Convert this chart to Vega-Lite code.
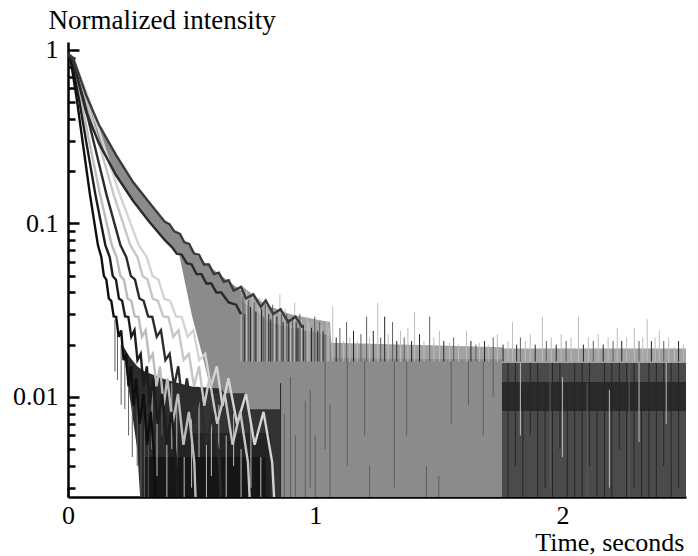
{
"$schema": "https://vega.github.io/schema/vega-lite/v6.json",
"autosize": {"type": "none"},
"padding": {"left": 68, "top": 42, "right": 12, "bottom": 59},
"width": 618,
"height": 455,
"background": "white",
"config": {
  "view": {"stroke": null},
  "axis": {"labelFont": "Liberation Serif, Times New Roman, serif", "titleFont": "Liberation Serif, Times New Roman, serif", "labelFontSize": 26, "titleFontSize": 27, "titleFontWeight": "normal", "labelColor": "black", "titleColor": "black", "domainColor": "black", "tickColor": "black", "grid": false}
},
"datasets": {
  "fills": [
    {"g": "R", "t": 0.70, "hi": 0.044, "lo": 0.001},
    {"g": "R", "t": 0.80, "hi": 0.034, "lo": 0.001},
    {"g": "R", "t": 0.90, "hi": 0.030, "lo": 0.001},
    {"g": "R", "t": 1.00, "hi": 0.028, "lo": 0.001},
    {"g": "R", "t": 1.06, "hi": 0.027, "lo": 0.001},
    {"g": "R", "t": 1.065, "hi": 0.0205, "lo": 0.001},
    {"g": "R", "t": 1.50, "hi": 0.0198, "lo": 0.001},
    {"g": "R", "t": 1.755, "hi": 0.0193, "lo": 0.001},
    {"g": "R", "t": 1.76, "hi": 0.019, "lo": 0.001},
    {"g": "R", "t": 2.50, "hi": 0.019, "lo": 0.001},
    {"g": "H", "t": 1.755, "hi": 0.0157, "lo": 0.001},
    {"g": "H", "t": 2.50, "hi": 0.0157, "lo": 0.001},
    {"g": "HD", "t": 1.755, "hi": 0.0122, "lo": 0.0083},
    {"g": "HD", "t": 2.50, "hi": 0.0122, "lo": 0.0083},
    {"g": "F", "t": 0.45, "hi": 0.066, "lo": 0.066},
    {"g": "F", "t": 0.50, "hi": 0.058, "lo": 0.030},
    {"g": "F", "t": 0.55, "hi": 0.050, "lo": 0.016},
    {"g": "F", "t": 0.60, "hi": 0.045, "lo": 0.008},
    {"g": "F", "t": 0.65, "hi": 0.040, "lo": 0.004},
    {"g": "F", "t": 0.70, "hi": 0.036, "lo": 0.001},
    {"g": "F", "t": 0.75, "hi": 0.032, "lo": 0.001},
    {"g": "F", "t": 0.80, "hi": 0.028, "lo": 0.001},
    {"g": "F", "t": 0.85, "hi": 0.026, "lo": 0.001},
    {"g": "F", "t": 0.90, "hi": 0.025, "lo": 0.001},
    {"g": "F", "t": 1.00, "hi": 0.0235, "lo": 0.001},
    {"g": "F", "t": 1.06, "hi": 0.0225, "lo": 0.001},
    {"g": "F", "t": 1.065, "hi": 0.0168, "lo": 0.001},
    {"g": "F", "t": 1.30, "hi": 0.0166, "lo": 0.001},
    {"g": "F", "t": 1.755, "hi": 0.0165, "lo": 0.001},
    {"g": "K", "t": 0.22, "hi": 0.020, "lo": 0.020},
    {"g": "K", "t": 0.25, "hi": 0.017, "lo": 0.010},
    {"g": "K", "t": 0.28, "hi": 0.015, "lo": 0.005},
    {"g": "K", "t": 0.31, "hi": 0.014, "lo": 0.001},
    {"g": "K", "t": 0.40, "hi": 0.0125, "lo": 0.001},
    {"g": "K", "t": 0.50, "hi": 0.0115, "lo": 0.001},
    {"g": "K", "t": 0.62, "hi": 0.0112, "lo": 0.001},
    {"g": "K", "t": 0.66, "hi": 0.009, "lo": 0.001},
    {"g": "K", "t": 0.80, "hi": 0.008, "lo": 0.001},
    {"g": "C", "t": 0.50, "hi": 0.0085, "lo": 0.001},
    {"g": "C", "t": 0.55, "hi": 0.0105, "lo": 0.001},
    {"g": "C", "t": 0.72, "hi": 0.0105, "lo": 0.001},
    {"g": "C", "t": 0.725, "hi": 0.0085, "lo": 0.001},
    {"g": "C", "t": 0.86, "hi": 0.0085, "lo": 0.001},
    {"g": "B", "t": 0.40, "hi": 0.0062, "lo": 0.001},
    {"g": "B", "t": 0.82, "hi": 0.0062, "lo": 0.001},
    {"g": "A", "t": 0.31, "hi": 0.0045, "lo": 0.001},
    {"g": "A", "t": 0.80, "hi": 0.0045, "lo": 0.001}
  ],
  "band": [
    {"t": 0, "hi": 0.95, "lo": 0.95},
    {"t": 0.02, "hi": 0.90, "lo": 0.86},
    {"t": 0.073, "hi": 0.55, "lo": 0.44},
    {"t": 0.125, "hi": 0.37, "lo": 0.29},
    {"t": 0.194, "hi": 0.248, "lo": 0.19},
    {"t": 0.263, "hi": 0.173, "lo": 0.135},
    {"t": 0.327, "hi": 0.133, "lo": 0.103},
    {"t": 0.392, "hi": 0.102, "lo": 0.080},
    {"t": 0.453, "hi": 0.085, "lo": 0.066},
    {"t": 0.51, "hi": 0.068, "lo": 0.053},
    {"t": 0.562, "hi": 0.058, "lo": 0.045},
    {"t": 0.62, "hi": 0.050, "lo": 0.038},
    {"t": 0.70, "hi": 0.041, "lo": 0.030}
  ],
  "rules": [
    {"t": 0.700, "lo": 0.016, "hi": 0.034, "c": "lt"},
    {"t": 0.708, "lo": 0.016, "hi": 0.038, "c": "md"},
    {"t": 0.715, "lo": 0.016, "hi": 0.030, "c": "dk"},
    {"t": 0.722, "lo": 0.016, "hi": 0.041, "c": "lt"},
    {"t": 0.730, "lo": 0.016, "hi": 0.036, "c": "md"},
    {"t": 0.738, "lo": 0.016, "hi": 0.033, "c": "dk"},
    {"t": 0.747, "lo": 0.016, "hi": 0.040, "c": "lt"},
    {"t": 0.753, "lo": 0.016, "hi": 0.035, "c": "md"},
    {"t": 0.760, "lo": 0.016, "hi": 0.031, "c": "dk"},
    {"t": 0.768, "lo": 0.016, "hi": 0.034, "c": "lt"},
    {"t": 0.776, "lo": 0.016, "hi": 0.037, "c": "lt"},
    {"t": 0.783, "lo": 0.016, "hi": 0.032, "c": "dk"},
    {"t": 0.790, "lo": 0.016, "hi": 0.029, "c": "md"},
    {"t": 0.798, "lo": 0.016, "hi": 0.035, "c": "md"},
    {"t": 0.805, "lo": 0.016, "hi": 0.033, "c": "lt"},
    {"t": 0.812, "lo": 0.016, "hi": 0.030, "c": "dk"},
    {"t": 0.820, "lo": 0.016, "hi": 0.028, "c": "dk"},
    {"t": 0.828, "lo": 0.016, "hi": 0.034, "c": "md"},
    {"t": 0.835, "lo": 0.016, "hi": 0.031, "c": "lt"},
    {"t": 0.845, "lo": 0.016, "hi": 0.029, "c": "dk"},
    {"t": 0.857, "lo": 0.016, "hi": 0.039, "c": "lt"},
    {"t": 0.863, "lo": 0.016, "hi": 0.030, "c": "md"},
    {"t": 0.870, "lo": 0.016, "hi": 0.027, "c": "dk"},
    {"t": 0.878, "lo": 0.016, "hi": 0.032, "c": "lt"},
    {"t": 0.885, "lo": 0.016, "hi": 0.030, "c": "md"},
    {"t": 0.893, "lo": 0.016, "hi": 0.028, "c": "dk"},
    {"t": 0.900, "lo": 0.016, "hi": 0.026, "c": "lt"},
    {"t": 0.908, "lo": 0.016, "hi": 0.029, "c": "md"},
    {"t": 0.917, "lo": 0.016, "hi": 0.035, "c": "lt"},
    {"t": 0.923, "lo": 0.016, "hi": 0.027, "c": "dk"},
    {"t": 0.930, "lo": 0.016, "hi": 0.025, "c": "dk"},
    {"t": 0.938, "lo": 0.016, "hi": 0.030, "c": "md"},
    {"t": 0.945, "lo": 0.016, "hi": 0.028, "c": "lt"},
    {"t": 0.952, "lo": 0.016, "hi": 0.026, "c": "dk"},
    {"t": 0.960, "lo": 0.016, "hi": 0.024, "c": "md"},
    {"t": 0.968, "lo": 0.016, "hi": 0.029, "c": "lt"},
    {"t": 0.975, "lo": 0.016, "hi": 0.027, "c": "lt"},
    {"t": 0.985, "lo": 0.016, "hi": 0.025, "c": "dk"},
    {"t": 0.998, "lo": 0.016, "hi": 0.029, "c": "md"},
    {"t": 1.010, "lo": 0.016, "hi": 0.024, "c": "dk"},
    {"t": 1.018, "lo": 0.016, "hi": 0.027, "c": "md"},
    {"t": 1.025, "lo": 0.016, "hi": 0.026, "c": "lt"},
    {"t": 1.032, "lo": 0.016, "hi": 0.024, "c": "dk"},
    {"t": 1.040, "lo": 0.016, "hi": 0.023, "c": "md"},
    {"t": 1.048, "lo": 0.016, "hi": 0.027, "c": "lt"},
    {"t": 1.055, "lo": 0.016, "hi": 0.025, "c": "lt"},
    {"t": 1.071, "lo": 0.016, "hi": 0.033, "c": "lt"},
    {"t": 1.085, "lo": 0.016, "hi": 0.022, "c": "dk"},
    {"t": 1.100, "lo": 0.016, "hi": 0.025, "c": "md"},
    {"t": 1.115, "lo": 0.016, "hi": 0.021, "c": "lt"},
    {"t": 1.127, "lo": 0.016, "hi": 0.027, "c": "md"},
    {"t": 1.140, "lo": 0.016, "hi": 0.022, "c": "lt"},
    {"t": 1.155, "lo": 0.016, "hi": 0.024, "c": "dk"},
    {"t": 1.170, "lo": 0.016, "hi": 0.021, "c": "lt"},
    {"t": 1.185, "lo": 0.016, "hi": 0.023, "c": "md"},
    {"t": 1.208, "lo": 0.016, "hi": 0.029, "c": "md"},
    {"t": 1.220, "lo": 0.016, "hi": 0.022, "c": "lt"},
    {"t": 1.235, "lo": 0.016, "hi": 0.024, "c": "dk"},
    {"t": 1.253, "lo": 0.016, "hi": 0.035, "c": "lt"},
    {"t": 1.265, "lo": 0.016, "hi": 0.022, "c": "md"},
    {"t": 1.281, "lo": 0.016, "hi": 0.029, "c": "dk"},
    {"t": 1.295, "lo": 0.016, "hi": 0.023, "c": "lt"},
    {"t": 1.313, "lo": 0.016, "hi": 0.027, "c": "md"},
    {"t": 1.330, "lo": 0.016, "hi": 0.021, "c": "dk"},
    {"t": 1.345, "lo": 0.016, "hi": 0.024, "c": "lt"},
    {"t": 1.360, "lo": 0.016, "hi": 0.022, "c": "md"},
    {"t": 1.375, "lo": 0.016, "hi": 0.025, "c": "lt"},
    {"t": 1.390, "lo": 0.016, "hi": 0.021, "c": "dk"},
    {"t": 1.402, "lo": 0.016, "hi": 0.031, "c": "lt"},
    {"t": 1.422, "lo": 0.016, "hi": 0.023, "c": "dk"},
    {"t": 1.440, "lo": 0.016, "hi": 0.021, "c": "lt"},
    {"t": 1.463, "lo": 0.016, "hi": 0.029, "c": "md"},
    {"t": 1.480, "lo": 0.016, "hi": 0.022, "c": "lt"},
    {"t": 1.503, "lo": 0.016, "hi": 0.024, "c": "lt"},
    {"t": 1.520, "lo": 0.016, "hi": 0.021, "c": "dk"},
    {"t": 1.543, "lo": 0.016, "hi": 0.0205, "c": "lt"},
    {"t": 1.560, "lo": 0.016, "hi": 0.022, "c": "md"},
    {"t": 1.580, "lo": 0.016, "hi": 0.020, "c": "lt"},
    {"t": 1.612, "lo": 0.016, "hi": 0.024, "c": "lt"},
    {"t": 1.630, "lo": 0.016, "hi": 0.021, "c": "dk"},
    {"t": 1.650, "lo": 0.016, "hi": 0.020, "c": "md"},
    {"t": 1.665, "lo": 0.016, "hi": 0.0205, "c": "lt"},
    {"t": 1.685, "lo": 0.016, "hi": 0.021, "c": "dk"},
    {"t": 1.700, "lo": 0.016, "hi": 0.020, "c": "lt"},
    {"t": 1.720, "lo": 0.016, "hi": 0.022, "c": "md"},
    {"t": 1.737, "lo": 0.016, "hi": 0.023, "c": "lt"},
    {"t": 1.760, "lo": 0.016, "hi": 0.020, "c": "dk"},
    {"t": 1.780, "lo": 0.016, "hi": 0.021, "c": "lt"},
    {"t": 1.798, "lo": 0.016, "hi": 0.027, "c": "lt"},
    {"t": 1.815, "lo": 0.016, "hi": 0.020, "c": "dk"},
    {"t": 1.830, "lo": 0.016, "hi": 0.022, "c": "md"},
    {"t": 1.850, "lo": 0.016, "hi": 0.021, "c": "lt"},
    {"t": 1.870, "lo": 0.016, "hi": 0.023, "c": "lt"},
    {"t": 1.890, "lo": 0.016, "hi": 0.020, "c": "dk"},
    {"t": 1.919, "lo": 0.016, "hi": 0.029, "c": "lt"},
    {"t": 1.935, "lo": 0.016, "hi": 0.021, "c": "md"},
    {"t": 1.955, "lo": 0.016, "hi": 0.022, "c": "lt"},
    {"t": 1.975, "lo": 0.016, "hi": 0.020, "c": "dk"},
    {"t": 1.995, "lo": 0.016, "hi": 0.023, "c": "lt"},
    {"t": 2.015, "lo": 0.016, "hi": 0.021, "c": "md"},
    {"t": 2.035, "lo": 0.016, "hi": 0.022, "c": "lt"},
    {"t": 2.065, "lo": 0.016, "hi": 0.029, "c": "lt"},
    {"t": 2.085, "lo": 0.016, "hi": 0.020, "c": "dk"},
    {"t": 2.105, "lo": 0.016, "hi": 0.022, "c": "lt"},
    {"t": 2.125, "lo": 0.016, "hi": 0.021, "c": "md"},
    {"t": 2.145, "lo": 0.016, "hi": 0.023, "c": "lt"},
    {"t": 2.165, "lo": 0.016, "hi": 0.020, "c": "dk"},
    {"t": 2.185, "lo": 0.016, "hi": 0.022, "c": "lt"},
    {"t": 2.205, "lo": 0.016, "hi": 0.021, "c": "md"},
    {"t": 2.222, "lo": 0.016, "hi": 0.025, "c": "lt"},
    {"t": 2.240, "lo": 0.016, "hi": 0.021, "c": "dk"},
    {"t": 2.260, "lo": 0.016, "hi": 0.022, "c": "lt"},
    {"t": 2.291, "lo": 0.016, "hi": 0.025, "c": "lt"},
    {"t": 2.310, "lo": 0.016, "hi": 0.021, "c": "md"},
    {"t": 2.325, "lo": 0.016, "hi": 0.022, "c": "lt"},
    {"t": 2.343, "lo": 0.016, "hi": 0.028, "c": "lt"},
    {"t": 2.360, "lo": 0.016, "hi": 0.021, "c": "dk"},
    {"t": 2.375, "lo": 0.016, "hi": 0.022, "c": "lt"},
    {"t": 2.392, "lo": 0.016, "hi": 0.024, "c": "lt"},
    {"t": 2.410, "lo": 0.016, "hi": 0.021, "c": "md"},
    {"t": 2.430, "lo": 0.016, "hi": 0.022, "c": "lt"},
    {"t": 2.453, "lo": 0.016, "hi": 0.0194, "c": "lt"},
    {"t": 2.470, "lo": 0.016, "hi": 0.021, "c": "dk"},
    {"t": 2.490, "lo": 0.016, "hi": 0.020, "c": "lt"},
    {"t": 0.86, "lo": 0.001, "hi": 0.012, "c": "dk"},
    {"t": 0.875, "lo": 0.001, "hi": 0.008, "c": "md"},
    {"t": 0.90, "lo": 0.002, "hi": 0.013, "c": "md"},
    {"t": 0.92, "lo": 0.001, "hi": 0.006, "c": "md"},
    {"t": 0.96, "lo": 0.001, "hi": 0.0095, "c": "md"},
    {"t": 0.98, "lo": 0.003, "hi": 0.011, "c": "md"},
    {"t": 1.00, "lo": 0.001, "hi": 0.006, "c": "md"},
    {"t": 1.04, "lo": 0.005, "hi": 0.016, "c": "md"},
    {"t": 1.06, "lo": 0.001, "hi": 0.009, "c": "md"},
    {"t": 1.13, "lo": 0.004, "hi": 0.016, "c": "md"},
    {"t": 1.20, "lo": 0.006, "hi": 0.016, "c": "md"},
    {"t": 1.22, "lo": 0.001, "hi": 0.004, "c": "md"},
    {"t": 1.32, "lo": 0.003, "hi": 0.016, "c": "md"},
    {"t": 1.37, "lo": 0.006, "hi": 0.016, "c": "md"},
    {"t": 1.45, "lo": 0.001, "hi": 0.004, "c": "md"},
    {"t": 1.50, "lo": 0.001, "hi": 0.0035, "c": "md"},
    {"t": 1.55, "lo": 0.007, "hi": 0.016, "c": "md"},
    {"t": 1.62, "lo": 0.009, "hi": 0.016, "c": "md"},
    {"t": 1.68, "lo": 0.006, "hi": 0.016, "c": "md"},
    {"t": 1.72, "lo": 0.010, "hi": 0.016, "c": "md"},
    {"t": 1.78, "lo": 0.001, "hi": 0.0157, "c": "dk"},
    {"t": 1.81, "lo": 0.004, "hi": 0.0157, "c": "dk"},
    {"t": 1.84, "lo": 0.001, "hi": 0.011, "c": "dk"},
    {"t": 1.87, "lo": 0.006, "hi": 0.0157, "c": "dk"},
    {"t": 1.90, "lo": 0.001, "hi": 0.0157, "c": "dk"},
    {"t": 1.93, "lo": 0.003, "hi": 0.012, "c": "dk"},
    {"t": 1.96, "lo": 0.001, "hi": 0.0157, "c": "dk"},
    {"t": 1.99, "lo": 0.005, "hi": 0.0157, "c": "dk"},
    {"t": 2.02, "lo": 0.001, "hi": 0.010, "c": "dk"},
    {"t": 2.05, "lo": 0.002, "hi": 0.0157, "c": "dk"},
    {"t": 2.08, "lo": 0.001, "hi": 0.0157, "c": "dk"},
    {"t": 2.11, "lo": 0.004, "hi": 0.0157, "c": "dk"},
    {"t": 2.14, "lo": 0.001, "hi": 0.009, "c": "dk"},
    {"t": 2.17, "lo": 0.002, "hi": 0.0157, "c": "dk"},
    {"t": 2.20, "lo": 0.001, "hi": 0.0157, "c": "dk"},
    {"t": 2.23, "lo": 0.005, "hi": 0.0157, "c": "dk"},
    {"t": 2.26, "lo": 0.001, "hi": 0.0157, "c": "dk"},
    {"t": 2.29, "lo": 0.003, "hi": 0.0157, "c": "dk"},
    {"t": 2.32, "lo": 0.001, "hi": 0.011, "c": "dk"},
    {"t": 2.35, "lo": 0.002, "hi": 0.0157, "c": "dk"},
    {"t": 2.38, "lo": 0.001, "hi": 0.0157, "c": "dk"},
    {"t": 2.41, "lo": 0.004, "hi": 0.0157, "c": "dk"},
    {"t": 2.44, "lo": 0.001, "hi": 0.0157, "c": "dk"},
    {"t": 2.47, "lo": 0.003, "hi": 0.0157, "c": "dk"},
    {"t": 1.83, "lo": 0.006, "hi": 0.0157, "c": "lt"},
    {"t": 2.00, "lo": 0.0045, "hi": 0.013, "c": "lt"},
    {"t": 2.19, "lo": 0.003, "hi": 0.011, "c": "lt"},
    {"t": 2.31, "lo": 0.0055, "hi": 0.0157, "c": "lt"},
    {"t": 2.42, "lo": 0.007, "hi": 0.0157, "c": "lt"},
    {"t": 1.95, "lo": 0.003, "hi": 0.0157, "c": "md"},
    {"t": 2.10, "lo": 0.001, "hi": 0.012, "c": "md"},
    {"t": 2.27, "lo": 0.002, "hi": 0.0157, "c": "md"},
    {"t": 0.34, "lo": 0.005, "hi": 0.012, "c": "lt"},
    {"t": 0.36, "lo": 0.0035, "hi": 0.0075, "c": "lt"},
    {"t": 0.38, "lo": 0.006, "hi": 0.011, "c": "md"},
    {"t": 0.40, "lo": 0.001, "hi": 0.006, "c": "lt"},
    {"t": 0.42, "lo": 0.005, "hi": 0.012, "c": "lt"},
    {"t": 0.44, "lo": 0.004, "hi": 0.009, "c": "lt"},
    {"t": 0.47, "lo": 0.001, "hi": 0.0045, "c": "lt"},
    {"t": 0.50, "lo": 0.003, "hi": 0.0075, "c": "lt"},
    {"t": 0.53, "lo": 0.0045, "hi": 0.0095, "c": "lt"},
    {"t": 0.56, "lo": 0.001, "hi": 0.0055, "c": "lt"},
    {"t": 0.58, "lo": 0.0035, "hi": 0.007, "c": "lt"},
    {"t": 0.61, "lo": 0.005, "hi": 0.009, "c": "lt"},
    {"t": 0.64, "lo": 0.002, "hi": 0.006, "c": "lt"},
    {"t": 0.67, "lo": 0.004, "hi": 0.008, "c": "lt"},
    {"t": 0.70, "lo": 0.001, "hi": 0.005, "c": "lt"},
    {"t": 0.74, "lo": 0.003, "hi": 0.007, "c": "lt"},
    {"t": 0.78, "lo": 0.001, "hi": 0.0045, "c": "lt"},
    {"t": 0.19, "lo": 0.014, "hi": 0.028, "c": "md"},
    {"t": 0.20, "lo": 0.0125, "hi": 0.025, "c": "md"},
    {"t": 0.215, "lo": 0.009, "hi": 0.02, "c": "md"},
    {"t": 0.23, "lo": 0.0085, "hi": 0.018, "c": "md"},
    {"t": 0.245, "lo": 0.006, "hi": 0.014, "c": "md"},
    {"t": 0.26, "lo": 0.0045, "hi": 0.012, "c": "md"},
    {"t": 0.28, "lo": 0.004, "hi": 0.011, "c": "md"},
    {"t": 0.295, "lo": 0.002, "hi": 0.009, "c": "md"},
    {"t": 0.31, "lo": 0.001, "hi": 0.008, "c": "md"},
    {"t": 0.325, "lo": 0.001, "hi": 0.006, "c": "md"}
  ],
  "curves": [
    {"s": "D", "t": 0, "v": 0.93}, {"s": "D", "t": 0.028, "v": 0.85}, {"s": "D", "t": 0.085, "v": 0.515}, {"s": "D", "t": 0.144, "v": 0.283}, {"s": "D", "t": 0.21, "v": 0.146}, {"s": "D", "t": 0.286, "v": 0.075}, {"s": "D", "t": 0.319, "v": 0.0638}, {"s": "D", "t": 0.342, "v": 0.0498}, {"s": "D", "t": 0.366, "v": 0.0474}, {"s": "D", "t": 0.389, "v": 0.0369}, {"s": "D", "t": 0.413, "v": 0.0358}, {"s": "D", "t": 0.437, "v": 0.0291}, {"s": "D", "t": 0.46, "v": 0.0289}, {"s": "D", "t": 0.484, "v": 0.0222}, {"s": "D", "t": 0.507, "v": 0.0242}, {"s": "D", "t": 0.531, "v": 0.0163}, {"s": "D", "t": 0.555, "v": 0.0177}, {"s": "D", "t": 0.578, "v": 0.0115}, {"s": "D", "t": 0.602, "v": 0.0150}, {"s": "D", "t": 0.625, "v": 0.0089}, {"s": "D", "t": 0.649, "v": 0.0128}, {"s": "D", "t": 0.684, "v": 0.0070}, {"s": "D", "t": 0.72, "v": 0.0104}, {"s": "D", "t": 0.755, "v": 0.0053}, {"s": "D", "t": 0.791, "v": 0.0082}, {"s": "D", "t": 0.826, "v": 0.0042}, {"s": "D", "t": 0.85, "v": 0.001},
    {"s": "G2", "t": 0, "v": 0.93}, {"s": "G2", "t": 0.025, "v": 0.85}, {"s": "G2", "t": 0.075, "v": 0.515}, {"s": "G2", "t": 0.127, "v": 0.283}, {"s": "G2", "t": 0.185, "v": 0.146}, {"s": "G2", "t": 0.252, "v": 0.075}, {"s": "G2", "t": 0.281, "v": 0.0638}, {"s": "G2", "t": 0.302, "v": 0.0498}, {"s": "G2", "t": 0.322, "v": 0.0474}, {"s": "G2", "t": 0.343, "v": 0.0369}, {"s": "G2", "t": 0.364, "v": 0.0358}, {"s": "G2", "t": 0.385, "v": 0.0291}, {"s": "G2", "t": 0.406, "v": 0.0289}, {"s": "G2", "t": 0.426, "v": 0.0222}, {"s": "G2", "t": 0.447, "v": 0.0242}, {"s": "G2", "t": 0.468, "v": 0.0163}, {"s": "G2", "t": 0.489, "v": 0.0177}, {"s": "G2", "t": 0.51, "v": 0.0115}, {"s": "G2", "t": 0.53, "v": 0.0150}, {"s": "G2", "t": 0.551, "v": 0.0089}, {"s": "G2", "t": 0.572, "v": 0.0128}, {"s": "G2", "t": 0.603, "v": 0.0070}, {"s": "G2", "t": 0.634, "v": 0.0104}, {"s": "G2", "t": 0.666, "v": 0.0053}, {"s": "G2", "t": 0.697, "v": 0.0082}, {"s": "G2", "t": 0.728, "v": 0.0042}, {"s": "G2", "t": 0.749, "v": 0.001},
    {"s": "C", "t": 0, "v": 0.93}, {"s": "C", "t": 0.021, "v": 0.85}, {"s": "C", "t": 0.063, "v": 0.515}, {"s": "C", "t": 0.107, "v": 0.283}, {"s": "C", "t": 0.156, "v": 0.146}, {"s": "C", "t": 0.212, "v": 0.075}, {"s": "C", "t": 0.236, "v": 0.0638}, {"s": "C", "t": 0.254, "v": 0.0498}, {"s": "C", "t": 0.271, "v": 0.0474}, {"s": "C", "t": 0.289, "v": 0.0369}, {"s": "C", "t": 0.306, "v": 0.0358}, {"s": "C", "t": 0.324, "v": 0.0291}, {"s": "C", "t": 0.341, "v": 0.0289}, {"s": "C", "t": 0.359, "v": 0.0222}, {"s": "C", "t": 0.376, "v": 0.0242}, {"s": "C", "t": 0.394, "v": 0.0163}, {"s": "C", "t": 0.411, "v": 0.0177}, {"s": "C", "t": 0.429, "v": 0.0115}, {"s": "C", "t": 0.446, "v": 0.0150}, {"s": "C", "t": 0.464, "v": 0.0089}, {"s": "C", "t": 0.481, "v": 0.0128}, {"s": "C", "t": 0.508, "v": 0.0070}, {"s": "C", "t": 0.534, "v": 0.0104}, {"s": "C", "t": 0.56, "v": 0.0053}, {"s": "C", "t": 0.586, "v": 0.0082}, {"s": "C", "t": 0.613, "v": 0.0042}, {"s": "C", "t": 0.63, "v": 0.001},
    {"s": "G1", "t": 0, "v": 0.93}, {"s": "G1", "t": 0.0175, "v": 0.85}, {"s": "G1", "t": 0.0526, "v": 0.515}, {"s": "G1", "t": 0.089, "v": 0.283}, {"s": "G1", "t": 0.13, "v": 0.146}, {"s": "G1", "t": 0.177, "v": 0.075}, {"s": "G1", "t": 0.197, "v": 0.0638}, {"s": "G1", "t": 0.212, "v": 0.0498}, {"s": "G1", "t": 0.226, "v": 0.0474}, {"s": "G1", "t": 0.241, "v": 0.0369}, {"s": "G1", "t": 0.256, "v": 0.0358}, {"s": "G1", "t": 0.27, "v": 0.0291}, {"s": "G1", "t": 0.285, "v": 0.0289}, {"s": "G1", "t": 0.299, "v": 0.0222}, {"s": "G1", "t": 0.314, "v": 0.0242}, {"s": "G1", "t": 0.329, "v": 0.0163}, {"s": "G1", "t": 0.343, "v": 0.0177}, {"s": "G1", "t": 0.358, "v": 0.0115}, {"s": "G1", "t": 0.372, "v": 0.0150}, {"s": "G1", "t": 0.387, "v": 0.0089}, {"s": "G1", "t": 0.402, "v": 0.0128}, {"s": "G1", "t": 0.423, "v": 0.0070}, {"s": "G1", "t": 0.445, "v": 0.0104}, {"s": "G1", "t": 0.467, "v": 0.0053}, {"s": "G1", "t": 0.489, "v": 0.0082}, {"s": "G1", "t": 0.511, "v": 0.0042}, {"s": "G1", "t": 0.526, "v": 0.001},
    {"s": "B", "t": 0, "v": 0.93}, {"s": "B", "t": 0.015, "v": 0.85}, {"s": "B", "t": 0.045, "v": 0.515}, {"s": "B", "t": 0.076, "v": 0.283}, {"s": "B", "t": 0.111, "v": 0.146}, {"s": "B", "t": 0.151, "v": 0.075}, {"s": "B", "t": 0.169, "v": 0.0638}, {"s": "B", "t": 0.181, "v": 0.0498}, {"s": "B", "t": 0.194, "v": 0.0474}, {"s": "B", "t": 0.206, "v": 0.0369}, {"s": "B", "t": 0.219, "v": 0.0358}, {"s": "B", "t": 0.231, "v": 0.0291}, {"s": "B", "t": 0.244, "v": 0.0289}, {"s": "B", "t": 0.256, "v": 0.0222}, {"s": "B", "t": 0.269, "v": 0.0242}, {"s": "B", "t": 0.281, "v": 0.0163}, {"s": "B", "t": 0.294, "v": 0.0177}, {"s": "B", "t": 0.306, "v": 0.0115}, {"s": "B", "t": 0.319, "v": 0.0150}, {"s": "B", "t": 0.331, "v": 0.0089}, {"s": "B", "t": 0.344, "v": 0.0128}, {"s": "B", "t": 0.363, "v": 0.0070}, {"s": "B", "t": 0.381, "v": 0.0104}, {"s": "B", "t": 0.4, "v": 0.0053}, {"s": "B", "t": 0.419, "v": 0.0082}, {"s": "B", "t": 0.438, "v": 0.0042}, {"s": "B", "t": 0.45, "v": 0.001},
    {"s": "A", "t": 0, "v": 0.93}, {"s": "A", "t": 0.012, "v": 0.85}, {"s": "A", "t": 0.036, "v": 0.515}, {"s": "A", "t": 0.061, "v": 0.283}, {"s": "A", "t": 0.089, "v": 0.146}, {"s": "A", "t": 0.121, "v": 0.075}, {"s": "A", "t": 0.135, "v": 0.0638}, {"s": "A", "t": 0.145, "v": 0.0498}, {"s": "A", "t": 0.155, "v": 0.0474}, {"s": "A", "t": 0.165, "v": 0.0369}, {"s": "A", "t": 0.175, "v": 0.0358}, {"s": "A", "t": 0.185, "v": 0.0291}, {"s": "A", "t": 0.195, "v": 0.0289}, {"s": "A", "t": 0.205, "v": 0.0222}, {"s": "A", "t": 0.215, "v": 0.0242}, {"s": "A", "t": 0.225, "v": 0.0163}, {"s": "A", "t": 0.235, "v": 0.0177}, {"s": "A", "t": 0.245, "v": 0.0115}, {"s": "A", "t": 0.255, "v": 0.0150}, {"s": "A", "t": 0.265, "v": 0.0089}, {"s": "A", "t": 0.275, "v": 0.0128}, {"s": "A", "t": 0.29, "v": 0.0070}, {"s": "A", "t": 0.305, "v": 0.0104}, {"s": "A", "t": 0.32, "v": 0.0053}, {"s": "A", "t": 0.335, "v": 0.0082}, {"s": "A", "t": 0.35, "v": 0.0042}, {"s": "A", "t": 0.36, "v": 0.001},
    {"s": "F2", "t": 0, "v": 0.95}, {"s": "F2", "t": 0.02, "v": 0.86}, {"s": "F2", "t": 0.073, "v": 0.44}, {"s": "F2", "t": 0.125, "v": 0.29}, {"s": "F2", "t": 0.194, "v": 0.19}, {"s": "F2", "t": 0.263, "v": 0.135}, {"s": "F2", "t": 0.327, "v": 0.103}, {"s": "F2", "t": 0.392, "v": 0.080}, {"s": "F2", "t": 0.42, "v": 0.073}, {"s": "F2", "t": 0.44, "v": 0.067}, {"s": "F2", "t": 0.46, "v": 0.066}, {"s": "F2", "t": 0.48, "v": 0.059}, {"s": "F2", "t": 0.50, "v": 0.058}, {"s": "F2", "t": 0.52, "v": 0.051}, {"s": "F2", "t": 0.54, "v": 0.051}, {"s": "F2", "t": 0.56, "v": 0.045}, {"s": "F2", "t": 0.58, "v": 0.045}, {"s": "F2", "t": 0.60, "v": 0.040}, {"s": "F2", "t": 0.62, "v": 0.040}, {"s": "F2", "t": 0.65, "v": 0.035}, {"s": "F2", "t": 0.68, "v": 0.034}, {"s": "F2", "t": 0.70, "v": 0.030},
    {"s": "F1", "t": 0, "v": 0.95}, {"s": "F1", "t": 0.02, "v": 0.90}, {"s": "F1", "t": 0.073, "v": 0.55}, {"s": "F1", "t": 0.125, "v": 0.37}, {"s": "F1", "t": 0.194, "v": 0.248}, {"s": "F1", "t": 0.263, "v": 0.173}, {"s": "F1", "t": 0.327, "v": 0.133}, {"s": "F1", "t": 0.392, "v": 0.102}, {"s": "F1", "t": 0.41, "v": 0.099}, {"s": "F1", "t": 0.43, "v": 0.090}, {"s": "F1", "t": 0.453, "v": 0.087}, {"s": "F1", "t": 0.47, "v": 0.078}, {"s": "F1", "t": 0.49, "v": 0.076}, {"s": "F1", "t": 0.51, "v": 0.067}, {"s": "F1", "t": 0.53, "v": 0.066}, {"s": "F1", "t": 0.55, "v": 0.058}, {"s": "F1", "t": 0.57, "v": 0.058}, {"s": "F1", "t": 0.59, "v": 0.051}, {"s": "F1", "t": 0.61, "v": 0.052}, {"s": "F1", "t": 0.63, "v": 0.046}, {"s": "F1", "t": 0.65, "v": 0.047}, {"s": "F1", "t": 0.67, "v": 0.041}, {"s": "F1", "t": 0.70, "v": 0.043}, {"s": "F1", "t": 0.72, "v": 0.037}, {"s": "F1", "t": 0.75, "v": 0.039}, {"s": "F1", "t": 0.78, "v": 0.033}, {"s": "F1", "t": 0.80, "v": 0.036}, {"s": "F1", "t": 0.83, "v": 0.030}, {"s": "F1", "t": 0.86, "v": 0.032}, {"s": "F1", "t": 0.89, "v": 0.027}, {"s": "F1", "t": 0.92, "v": 0.029}, {"s": "F1", "t": 0.95, "v": 0.025}
  ]
},
"encoding": {
  "x": {"field": "t", "type": "quantitative", "scale": {"domain": [0, 2.5], "nice": false, "zero": false},
        "axis": {"values": [0, 1, 2], "tickSize": -10, "tickWidth": 2, "domainWidth": 2.5, "labelPadding": 15, "labelFlush": false, "labelAngle": 0,
                 "title": "Time, seconds", "titleFontSize": 26, "titleX": 616, "titleY": 53, "titleAlign": "right", "titleBaseline": "alphabetic"}}
},
"layer": [
  {"data": {"name": "fills"}, "transform": [{"filter": "datum.g == 'R'"}], "mark": {"type": "area", "clip": true, "color": "#a2a2a2"},
   "encoding": {
     "y": {"field": "hi", "type": "quantitative", "stack": null, "scale": {"type": "log", "domain": [0.00265, 1.11], "nice": false},
           "axis": {"values": [0.003, 0.004, 0.005, 0.006, 0.007, 0.008, 0.009, 0.01, 0.02, 0.03, 0.04, 0.05, 0.06, 0.07, 0.08, 0.09, 0.1, 0.2, 0.3, 0.4, 0.5, 0.6, 0.7, 0.8, 0.9, 1],
                    "labelExpr": "datum.value == 1 ? '1' : datum.value == 0.1 ? '0.1' : datum.value == 0.01 ? '0.01' : ''",
                    "tickSize": {"condition": {"test": "datum.value == 1 || datum.value == 0.1 || datum.value == 0.01", "value": -11}, "value": -7},
                    "tickWidth": 2.5, "domainWidth": 2.5, "labelPadding": 21, "labelBaseline": "middle",
                    "title": "Normalized intensity", "titleAngle": 0, "titleAlign": "left", "titleBaseline": "alphabetic", "titleX": -20, "titleY": -14}},
     "y2": {"field": "lo"}}},
  {"data": {"name": "fills"}, "transform": [{"filter": "datum.g == 'H'"}], "mark": {"type": "area", "clip": true, "color": "#4b4b4b"},
   "encoding": {"y": {"field": "hi", "type": "quantitative", "stack": null}, "y2": {"field": "lo"}}},
  {"data": {"name": "fills"}, "transform": [{"filter": "datum.g == 'HD'"}], "mark": {"type": "area", "clip": true, "color": "#2a2a2a"},
   "encoding": {"y": {"field": "hi", "type": "quantitative", "stack": null}, "y2": {"field": "lo"}}},
  {"data": {"name": "fills"}, "transform": [{"filter": "datum.g == 'F'"}], "mark": {"type": "area", "clip": true, "color": "#8b8b8b"},
   "encoding": {"y": {"field": "hi", "type": "quantitative", "stack": null}, "y2": {"field": "lo"}}},
  {"data": {"name": "fills"}, "transform": [{"filter": "datum.g == 'K'"}], "mark": {"type": "area", "clip": true, "color": "#2b2b2b"},
   "encoding": {"y": {"field": "hi", "type": "quantitative", "stack": null}, "y2": {"field": "lo"}}},
  {"data": {"name": "fills"}, "transform": [{"filter": "datum.g == 'C'"}], "mark": {"type": "area", "clip": true, "color": "#333333"},
   "encoding": {"y": {"field": "hi", "type": "quantitative", "stack": null}, "y2": {"field": "lo"}}},
  {"data": {"name": "fills"}, "transform": [{"filter": "datum.g == 'B'"}], "mark": {"type": "area", "clip": true, "color": "#242424"},
   "encoding": {"y": {"field": "hi", "type": "quantitative", "stack": null}, "y2": {"field": "lo"}}},
  {"data": {"name": "fills"}, "transform": [{"filter": "datum.g == 'A'"}], "mark": {"type": "area", "clip": true, "color": "#161616"},
   "encoding": {"y": {"field": "hi", "type": "quantitative", "stack": null}, "y2": {"field": "lo"}}},
  {"data": {"name": "rules"}, "mark": {"type": "rule", "clip": true, "strokeWidth": 1},
   "encoding": {"y": {"field": "lo", "type": "quantitative"}, "y2": {"field": "hi"},
                "color": {"field": "c", "type": "nominal", "legend": null, "scale": {"domain": ["lt", "md", "dk"], "range": ["#bdbdbd", "#5e5e5e", "#262626"]}}}},
  {"data": {"name": "band"}, "mark": {"type": "area", "clip": true, "color": "#8b8b8b"},
   "encoding": {"y": {"field": "hi", "type": "quantitative", "stack": null}, "y2": {"field": "lo"}}},
  {"data": {"name": "curves"}, "mark": {"type": "line", "clip": true, "strokeWidth": 2.4},
   "encoding": {"y": {"field": "v", "type": "quantitative"},
                "color": {"field": "s", "type": "nominal", "legend": null, "scale": {"domain": ["D", "G2", "C", "G1", "B", "A", "F2", "F1"], "range": ["#d4d4d4", "#c6c6c6", "#2c2c2c", "#bcbcbc", "#1c1c1c", "#0f0f0f", "#2a2a2a", "#3a3a3a"]}}}}
],
"resolve": {"scale": {"color": "independent"}}
}
